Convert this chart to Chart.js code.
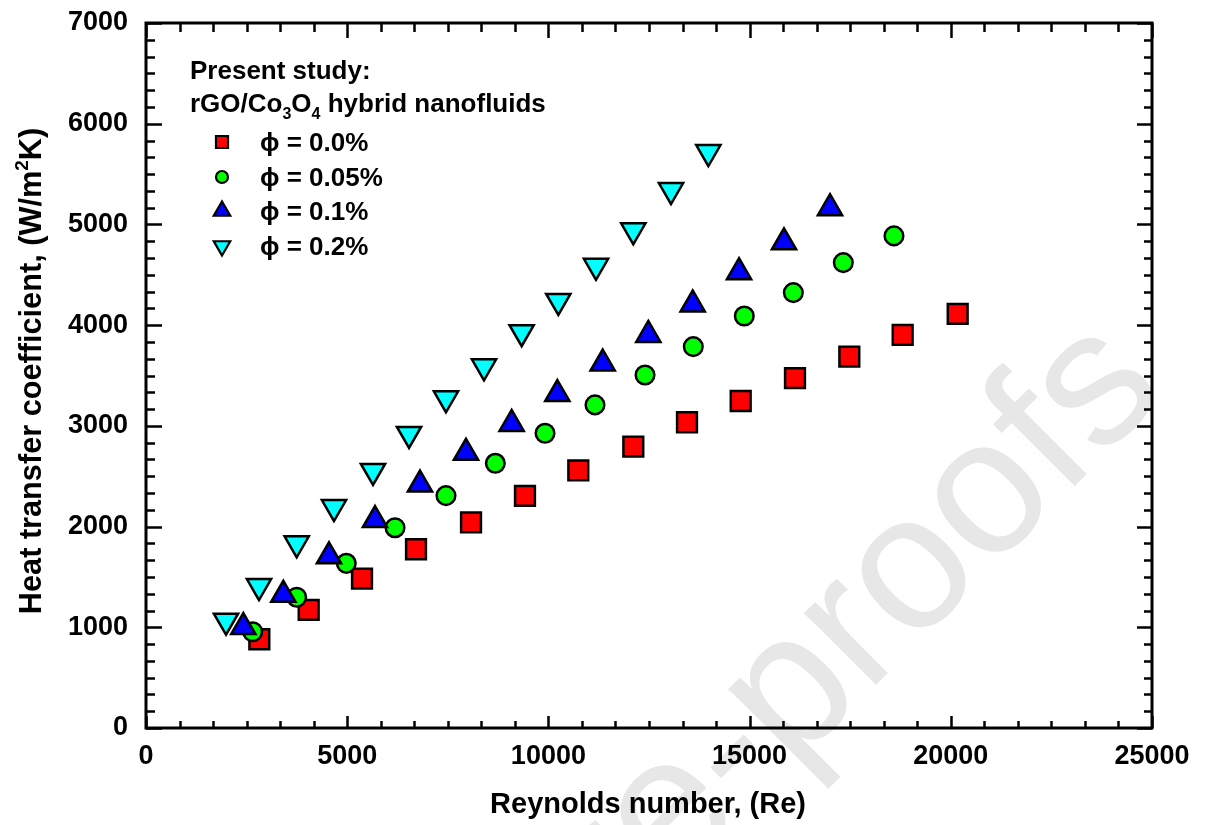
<!DOCTYPE html>
<html>
<head>
<meta charset="utf-8">
<script src="https://cdn.jsdelivr.net/npm/chart.js@4.4.0/dist/chart.umd.min.js"></script>
<style>
html,body{margin:0;padding:0;background:#fff;}
#wrap{width:1206px;height:825px;position:relative;}
canvas{display:block;}
</style>
</head>
<body>
<div id="wrap"><canvas id="c" width="1206" height="825"></canvas></div>
<script>
// ---- Data ----
const SERIES_LABELS = ['\u03D5 = 0.0%', '\u03D5 = 0.05%', '\u03D5 = 0.1%', '\u03D5 = 0.2%'];

const re_phi000  = [2816, 4043, 5368, 6710, 8077, 9418, 10743, 12110, 13444, 14779, 16128, 17478, 18804, 20171];
const htc_phi000 = [881, 1172, 1483, 1775, 2041, 2305, 2557, 2793, 3036, 3247, 3473, 3687, 3903, 4111];

const re_phi005  = [2651, 3745, 4978, 6188, 7455, 8681, 9916, 11158, 12401, 13601, 14868, 16087, 17329, 18588];
const htc_phi005 = [956, 1298, 1635, 1989, 2307, 2628, 2926, 3208, 3505, 3787, 4091, 4323, 4621, 4886];

const re_phi010  = [2419, 3413, 4548, 5691, 6809, 7952, 9087, 10222, 11349, 12483, 13586, 14737, 15855, 16998];
const htc_phi010 = [1002, 1322, 1705, 2065, 2417, 2732, 3019, 3316, 3619, 3903, 4206, 4526, 4823, 5161];

const re_phi020  = [1988, 2808, 3745, 4672, 5641, 6536, 7455, 8400, 9335, 10246, 11183, 12110, 13047, 13975];
const htc_phi020 = [1066, 1409, 1834, 2194, 2552, 2920, 3274, 3591, 3930, 4240, 4589, 4941, 5341, 5719];

const X_TICK_VALUES = [0, 5000, 10000, 15000, 20000, 25000];
const X_TICK_LABELS = ['0', '5000', '10000', '15000', '20000', '25000'];
const Y_TICK_VALUES = [0, 1000, 2000, 3000, 4000, 5000, 6000, 7000];
const Y_TICK_LABELS = ['0', '1000', '2000', '3000', '4000', '5000', '6000', '7000'];

const X_TITLE = 'Reynolds number, (Re)';
const LEGEND_TITLE_1 = 'Present study:';
const WATERMARK = 'Journal Pre-proofs';

// ---- helpers ----
function pts(xs, ys){ return xs.map((v,i)=>({x:v, y:ys[i]})); }
const FONT = '"Liberation Sans", Arial, sans-serif';

function drawRich(ctx, parts, x, y, size){
  let cx = x;
  for (const p of parts){
    if (p.sub || p.sup){
      ctx.font = 'bold ' + Math.round(size*0.62) + 'px ' + FONT;
      const dy = p.sub ? size*0.28 : -size*0.42;
      ctx.fillText(p.t, cx, y + dy);
    } else {
      ctx.font = 'bold ' + size + 'px ' + FONT;
      ctx.fillText(p.t, cx, y);
    }
    cx += ctx.measureText(p.t).width;
  }
  return cx - x;
}
function richWidth(ctx, parts, size){
  let w = 0;
  for (const p of parts){
    ctx.font = 'bold ' + ((p.sub||p.sup)?Math.round(size*0.62):size) + 'px ' + FONT;
    w += ctx.measureText(p.t).width;
  }
  return w;
}

function marker(ctx, style, x, y, r, fill){
  ctx.fillStyle = fill; ctx.strokeStyle = '#000'; ctx.lineWidth = 2.2;
  ctx.lineJoin = 'miter';
  ctx.beginPath();
  if (style === 'rect'){
    const s = r*Math.SQRT1_2;
    ctx.rect(x-s, y-s, 2*s, 2*s);
  } else if (style === 'circle'){
    ctx.arc(x, y, r, 0, Math.PI*2);
  } else if (style === 'triangle'){
    ctx.moveTo(x, y - r); ctx.lineTo(x + r*0.866, y + r/2); ctx.lineTo(x - r*0.866, y + r/2); ctx.closePath();
  } else if (style === 'tridown'){
    ctx.moveTo(x, y + r); ctx.lineTo(x + r*0.866, y - r/2); ctx.lineTo(x - r*0.866, y - r/2); ctx.closePath();
  }
  ctx.fill(); ctx.stroke();
}

const decor = {
  id: 'decor',
  beforeDraw(chart){
    // faint "Journal Pre-proofs" watermark of the source page
    const {ctx} = chart;
    ctx.save();
    const ang = -45*Math.PI/180;
    const size = 192;
    ctx.font = size + 'px ' + FONT;
    ctx.fillStyle = '#e7e7e7';
    ctx.textAlign = 'left';
    ctx.textBaseline = 'alphabetic';
    // place the centre of the final "s" where it sits in the reference
    const fullW = ctx.measureText(WATERMARK).width;
    const sW = ctx.measureText('s').width;
    const along = fullW - sW/2;          // distance from text start to centre of "s"
    const up = 0.26*size;                // half x-height above baseline
    const sx = 1099, sy = 391;
    const ux = Math.cos(ang), uy = Math.sin(ang);
    const nx = Math.sin(ang), ny = -Math.cos(ang); // "up" direction in rotated frame
    const ox = sx - along*ux - up*nx;
    const oy = sy - along*uy - up*ny;
    ctx.translate(ox, oy);
    ctx.rotate(ang);
    ctx.fillText(WATERMARK, 0, 0);
    ctx.restore();
  },
  beforeDatasetsDraw(chart){
    const {ctx, chartArea:a, scales:{x, y}} = chart;
    ctx.save();
    ctx.strokeStyle = '#000';
    ctx.lineWidth = 2.5;
    ctx.lineCap = 'butt';
    ctx.beginPath();
    for (let i = 0; i <= 30; i++){
      const v = i*5000/6;
      const px = Math.round(x.getPixelForValue(v)) + 0.5;
      const major = i % 6 === 0;
      const lb = major ? 12 : 7, lt = major ? 15 : 9;
      ctx.moveTo(px, a.bottom); ctx.lineTo(px, a.bottom - lb);
      ctx.moveTo(px, a.top); ctx.lineTo(px, a.top + lt);
    }
    for (let i = 0; i <= 42; i++){
      const v = i*1000/6;
      const py = Math.round(y.getPixelForValue(v)) + 0.5;
      const major = i % 6 === 0;
      const ll = major ? 16 : 9, lr = major ? 15 : 8;
      ctx.moveTo(a.left, py); ctx.lineTo(a.left + ll, py);
      ctx.moveTo(a.right, py); ctx.lineTo(a.right - lr, py);
    }
    ctx.stroke();
    ctx.lineWidth = 3;
    ctx.strokeRect(a.left, a.top, a.right - a.left, a.bottom - a.top);
    ctx.restore();
  },
  afterDraw(chart){
    const {ctx} = chart;
    ctx.save();
    ctx.fillStyle = '#000';
    ctx.textBaseline = 'alphabetic';
    ctx.textAlign = 'left';
    // x title
    ctx.font = 'bold 29px ' + FONT;
    const xw = ctx.measureText(X_TITLE).width;
    ctx.fillText(X_TITLE, 648 - xw/2, 813);
    // y title (rotated)
    const yParts = [{t:'Heat transfer coefficient, (W/m'}, {t:'2', sup:true}, {t:'K)'}];
    const ysz = 30.7;
    const yw = richWidth(ctx, yParts, ysz);
    ctx.save();
    ctx.translate(41, 371);
    ctx.rotate(-Math.PI/2);
    drawRich(ctx, yParts, -yw/2, 0, ysz);
    ctx.restore();
    // legend
    const lsz = 26;
    ctx.font = 'bold ' + lsz + 'px ' + FONT;
    ctx.fillText(LEGEND_TITLE_1, 190, 79);
    drawRich(ctx, [{t:'rGO/Co'}, {t:'3', sub:true}, {t:'O'}, {t:'4', sub:true}, {t:' hybrid nanofluids'}], 190, 112, lsz);
    const ly = [142, 177, 211, 246];
    const styles = [['rect', 8.5, '#ff0000'], ['circle', 6, '#00ff00'], ['triangle', 9.5, '#0000ff'], ['tridown', 9.5, '#00ffff']];
    for (let i = 0; i < 4; i++){
      marker(ctx, styles[i][0], 222, ly[i], styles[i][1], styles[i][2]);
      ctx.fillStyle = '#000';
      ctx.font = 'bold ' + lsz + 'px ' + FONT;
      ctx.fillText(SERIES_LABELS[i], 260, ly[i] + 9);
    }
    ctx.restore();
  }
};

const common = {borderColor:'#000', borderWidth:2.5, showLine:false};

new Chart(document.getElementById('c'), {
  type: 'scatter',
  data: {
    datasets: [
      Object.assign({label: SERIES_LABELS[0], data: pts(re_phi000, htc_phi000), pointStyle:'rect', pointRadius:14, backgroundColor:'#ff0000', order:4}, common),
      Object.assign({label: SERIES_LABELS[1], data: pts(re_phi005, htc_phi005), pointStyle:'circle', pointRadius:9.3, backgroundColor:'#00ff00', order:3}, common),
      Object.assign({label: SERIES_LABELS[2], data: pts(re_phi010, htc_phi010), pointStyle:'triangle', pointRadius:14, backgroundColor:'#0000ff', order:1}, common),
      Object.assign({label: SERIES_LABELS[3], data: pts(re_phi020, htc_phi020), pointStyle:'triangle', rotation:180, pointRadius:14, backgroundColor:'#00ffff', order:2}, common)
    ]
  },
  options: {
    responsive: false,
    animation: false,
    devicePixelRatio: 1,
    layout: {padding: {left: 0, right: 54, top: 23, bottom: 0}},
    plugins: {legend: {display:false}, tooltip: {enabled:false}},
    elements: {point: {hoverRadius: 14}},
    scales: {
      x: {
        type: 'linear', min: 0, max: 25000,
        afterBuildTicks: s => { s.ticks = X_TICK_VALUES.map(v => ({value: v})); },
        afterFit: s => { s.height = 97; s.paddingLeft = 0; s.paddingRight = 0; },
        grid: {display:false, drawTicks:false},
        border: {display:false},
        ticks: {
          padding: 12, color:'#000',
          font: {family: FONT, size: 27, weight: 'bold'},
          callback: (v) => { const i = X_TICK_VALUES.indexOf(v); return i >= 0 ? X_TICK_LABELS[i] : ''; },
          maxRotation: 0, autoSkip: false
        }
      },
      y: {
        type: 'linear', min: 0, max: 7000,
        afterBuildTicks: s => { s.ticks = Y_TICK_VALUES.map(v => ({value: v})); },
        afterFit: s => { s.width = 146; s.paddingTop = 0; s.paddingBottom = 0; },
        grid: {display:false, drawTicks:false},
        border: {display:false},
        ticks: {
          padding: 18, color:'#000',
          font: {family: FONT, size: 27, weight: 'bold'},
          callback: (v) => { const i = Y_TICK_VALUES.indexOf(v); return i >= 0 ? Y_TICK_LABELS[i] : ''; },
          autoSkip: false
        }
      }
    }
  },
  plugins: [decor]
});
</script>
</body>
</html>
